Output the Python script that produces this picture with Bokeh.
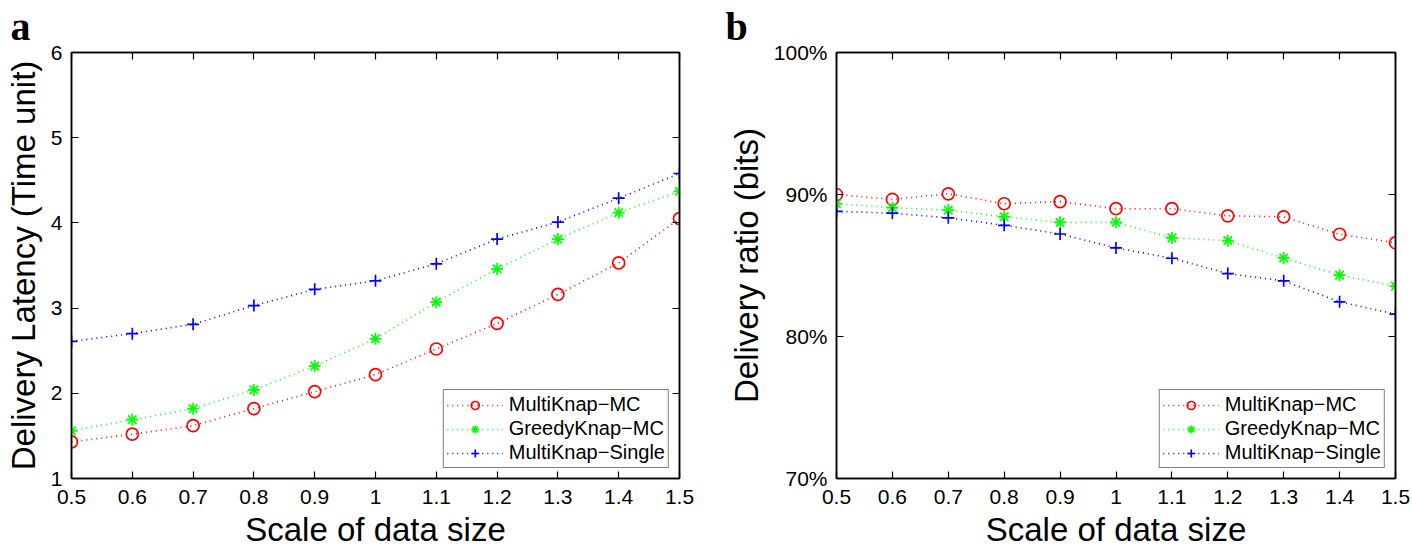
from bokeh.plotting import figure
from bokeh.layouts import row
from bokeh.models import (FixedTicker, LinearAxis, Legend, LegendItem, Range1d, Title,
                          CustomLabelingPolicy)
from bokeh.embed import file_html
from bokeh.resources import INLINE

# ---------------- data ----------------
scale = [0.5, 0.6, 0.7, 0.8, 0.9, 1.0, 1.1, 1.2, 1.3, 1.4, 1.5]
series_names = ["MultiKnap\u2212MC", "GreedyKnap\u2212MC", "MultiKnap\u2212Single"]

latency_multi_mc = [1.43, 1.52, 1.62, 1.82, 2.02, 2.22, 2.52, 2.82, 3.16, 3.53, 4.05]
latency_greedy_mc = [1.56, 1.69, 1.82, 2.04, 2.32, 2.64, 3.07, 3.46, 3.81, 4.12, 4.37]
latency_multi_single = [2.61, 2.70, 2.81, 3.03, 3.22, 3.32, 3.52, 3.81, 4.01, 4.29, 4.58]

ratio_multi_mc = [90.0, 89.65, 90.05, 89.35, 89.5, 89.0, 89.0, 88.5, 88.43, 87.2, 86.6]
ratio_greedy_mc = [89.35, 89.07, 88.9, 88.43, 88.04, 88.04, 86.94, 86.75, 85.53, 84.32, 83.55]
ratio_multi_single = [88.81, 88.69, 88.36, 87.83, 87.22, 86.24, 85.51, 84.43, 83.92, 82.44, 81.58]

x_ticks = [0.5, 0.6, 0.7, 0.8, 0.9, 1.0, 1.1, 1.2, 1.3, 1.4, 1.5]
x_tick_labels = ["0.5", "0.6", "0.7", "0.8", "0.9", "1", "1.1", "1.2", "1.3", "1.4", "1.5"]
lat_ticks = [1, 2, 3, 4, 5, 6]
ratio_ticks = [70, 80, 90, 100]
ratio_tick_labels = ["70%", "80%", "90%", "100%"]

colors = ["#ff0000", "#00ff00", "#0000ff"]
markers = ["circle", "asterisk", "cross"]

FONT = "Liberation Sans"


def style_axis(ax, ticks, overrides, show_labels=True, label_standoff=9, title_standoff=6):
    ax.ticker = FixedTicker(ticks=ticks)
    ax.major_label_overrides = overrides
    ax.major_tick_in = 7
    ax.major_tick_out = 0
    ax.minor_tick_line_color = None
    ax.axis_line_color = "black"
    ax.axis_line_width = 1.5
    ax.major_tick_line_width = 1.2
    ax.major_tick_line_color = "black"
    if show_labels:
        ax.major_label_text_font = FONT
        ax.major_label_text_font_size = "21px"
        ax.major_label_text_color = "black"
        ax.major_label_standoff = label_standoff
        ax.axis_label_text_font = FONT
        ax.axis_label_text_font_size = "33px"
        ax.axis_label_text_font_style = "normal"
        ax.axis_label_text_color = "black"
        ax.axis_label_standoff = title_standoff
    else:
        ax.major_label_text_font_size = "1px"
        ax.major_label_standoff = 0
        ax.major_label_policy = CustomLabelingPolicy(code="return new Set()")
        ax.axis_label = None


def make_panel(width, mbl, mbr, yr, yticks, ylabels, ylabel, series, letter, letter_off):
    p = figure(width=width, height=550, output_backend="svg", toolbar_location=None,
               x_range=Range1d(0.5, 1.5), y_range=Range1d(*yr),
               min_border_left=mbl, min_border_right=mbr,
               min_border_top=52, min_border_bottom=70)
    p.grid.visible = False
    p.outline_line_color = "black"
    p.outline_line_width = 1.5
    p.background_fill_color = "white"
    p.border_fill_color = "white"

    xo = {v: s for v, s in zip(x_ticks, x_tick_labels)}
    yo = {v: s for v, s in zip(yticks, ylabels)}
    style_axis(p.xaxis[0], x_ticks, xo, label_standoff=11, title_standoff=4)
    style_axis(p.yaxis[0], yticks, yo, label_standoff=9, title_standoff=6)
    p.xaxis[0].axis_label = "Scale of data size"
    p.yaxis[0].axis_label = ylabel

    top = LinearAxis()
    style_axis(top, x_ticks, {}, show_labels=False)
    p.add_layout(top, "above")
    right = LinearAxis()
    style_axis(right, yticks, {}, show_labels=False)
    p.add_layout(right, "right")

    items = []
    for name, vals, c, m in zip(series_names, series, colors, markers):
        lr = p.line(scale, vals, line_color=c, line_dash="1 4", line_width=1.6)
        sr = p.scatter(scale, vals, marker=m, size=12, line_color=c, fill_color=None,
                       line_width=1.7)
        items.append(LegendItem(label=name, renderers=[lr, sr]))

    legend = Legend(items=items, location="bottom_right")
    legend.border_line_color = "black"
    legend.border_line_width = 1.5
    legend.background_fill_color = "white"
    legend.background_fill_alpha = 1
    legend.label_text_font = FONT
    legend.label_text_font_size = "20px"
    legend.label_text_color = "black"
    legend.glyph_width = 56
    legend.glyph_height = 20
    legend.label_height = 20
    legend.label_standoff = 6
    legend.spacing = 1
    legend.padding = 3
    legend.margin = 10
    p.add_layout(legend)

    t = Title(text=letter, align="left", offset=letter_off, standoff=0,
              text_font="Liberation Serif", text_font_style="bold",
              text_font_size="40px", text_color="black")
    p.add_layout(t, "above")
    return p


p1 = make_panel(700, 71, 21, (1, 6), lat_ticks, [str(t) for t in lat_ticks],
                "Delivery Latency (Time unit)",
                [latency_multi_mc, latency_greedy_mc, latency_multi_single], "a", -61)
p2 = make_panel(712, 136, 17, (70, 100), ratio_ticks, ratio_tick_labels,
                "Delivery ratio (bits)",
                [ratio_multi_mc, ratio_greedy_mc, ratio_multi_single], "b", -111)

layout = row(p1, p2)
open("out.html", "w").write(file_html(layout, INLINE))
